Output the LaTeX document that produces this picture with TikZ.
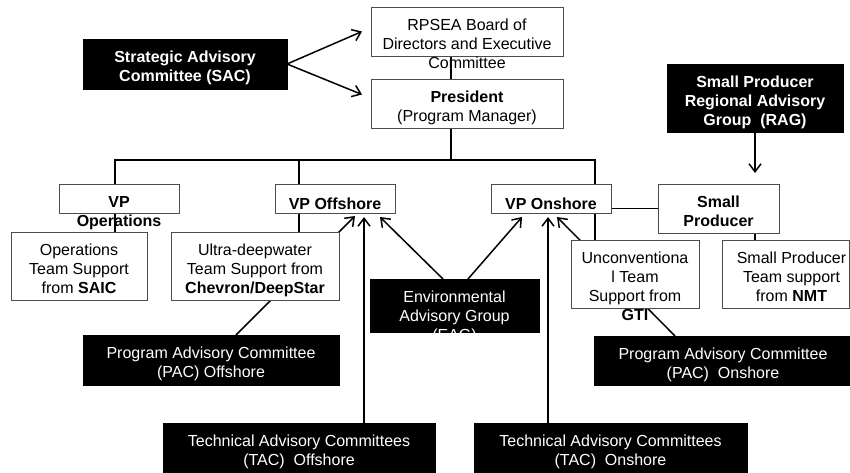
\documentclass[tikz,border=0pt]{standalone}
\usepackage{fontspec}
\setmainfont{Liberation Sans}
\usetikzlibrary{arrows.meta}
\pgfdeclarelayer{bg}
\pgfsetlayers{bg,main}
\begin{document}
\begin{tikzpicture}[x=1pt,y=-1pt,
  wbox/.style={draw=black!70, line width=0.8pt, fill=white, inner sep=0pt, outer sep=0pt, anchor=north west},
  kbox/.style={draw=black, fill=black, line width=0.8pt, inner sep=0pt, outer sep=0pt, anchor=north west},
  btxt/.style={font=\fontsize{16}{19}\selectfont, align=center, inner sep=0pt, anchor=north, text=black,
    execute at begin node={\rule{0pt}{13pt}}},
  wtxt/.style={btxt, text=white},
  conn/.style={line width=1.5pt, black},
  arr/.style={conn, -{Straight Barb[length=8pt,width=12pt]}},
]
\clip (0,0) rectangle (850,472);

% top of the organisation
\node[wbox, minimum width=192pt, minimum height=49pt] (rpsea) at (371,7) {};
\node[btxt] (rpsea-t) at ([yshift=-12pt]rpsea.north) {RPSEA Board of\\Directors and Executive\\Committee};
\node[wbox, minimum width=192pt, minimum height=49pt] (pres) at (371,79) {};
\node[btxt] (pres-t) at ([yshift=-12pt]pres.north) {\textbf{President}\\(Program Manager)};

\node[kbox, minimum width=204pt, minimum height=50pt] (sac) at (83,39) {};
\node[wtxt] (sac-t) at ([yshift=-12pt]sac.north) {\textbf{Strategic Advisory}\\\textbf{Committee (SAC)}};

\node[kbox, minimum width=176pt, minimum height=68pt] (rag) at (667,64) {};
\node[wtxt] (rag-t) at ([yshift=-12pt]rag.north) {\textbf{Small Producer}\\\textbf{Regional Advisory}\\\textbf{Group\ \ (RAG)}};

% vice presidents
\node[wbox, minimum width=120pt, minimum height=29pt] (vpops) at (59,184) {};
\node[btxt] (vpops-t) at ([yshift=-12pt]vpops.north) {\textbf{VP}\\\textbf{Operations}};
\node[wbox, minimum width=120pt, minimum height=29pt] (vpoff) at (275,184) {};
\node[btxt] (vpoff-t) at ([yshift=-12pt]vpoff.north) {\textbf{VP Offshore}};
\node[wbox, minimum width=120pt, minimum height=29pt] (vpon) at (491,184) {};
\node[btxt] (vpon-t) at ([yshift=-12pt]vpon.north) {\textbf{VP Onshore}};
\node[wbox, minimum width=121pt, minimum height=49pt] (sp) at (658,184) {};
\node[btxt] (sp-t) at ([yshift=-12pt]sp.north) {\textbf{Small}\\\textbf{Producer}};

% team support
\node[wbox, minimum width=136pt, minimum height=68pt] (opssup) at (11,232) {};
\node[btxt] (opssup-t) at ([yshift=-12pt]opssup.north) {Operations\\Team Support\\from \textbf{SAIC}};
\node[wbox, minimum width=168pt, minimum height=68pt] (ultra) at (171,232) {};
\node[btxt] (ultra-t) at ([yshift=-12pt]ultra.north) {Ultra-deepwater\\Team Support from\\\textbf{Chevron/DeepStar}};
\node[wbox, minimum width=128pt, minimum height=68pt] (unconv) at (571,240) {};
\node[btxt] (unconv-t) at ([yshift=-12pt]unconv.north) {Unconventiona\\l Team\\Support from\\\textbf{GTI}};
\node[wbox, minimum width=127pt, minimum height=68pt] (spteam) at (722,240) {};
\node[btxt] (spteam-t) at ([yshift=-12pt, xshift=6pt]spteam.north) {Small Producer\\Team support\\from \textbf{NMT}};

% advisory bodies
\node[kbox, minimum width=169pt, minimum height=53pt] (eag) at (370,279) {};
\node[wtxt] (eag-t) at ([yshift=-12pt]eag.north) {Environmental\\Advisory Group\\(EAG)};
\node[kbox, minimum width=256pt, minimum height=50pt] (pacoff) at (83,335) {};
\node[wtxt] (pacoff-t) at ([yshift=-12pt]pacoff.north) {Program Advisory Committee\\(PAC) Offshore};
\node[kbox, minimum width=258pt, minimum height=49pt] (pacon) at (594,336) {};
\node[wtxt] (pacon-t) at ([yshift=-12pt]pacon.north) {Program Advisory Committee\\(PAC)\ \ Onshore};
\node[kbox, minimum width=272pt, minimum height=60pt] (tacoff) at (163,423) {};
\node[wtxt] (tacoff-t) at ([yshift=-12pt]tacoff.north) {Technical Advisory Committees\\(TAC)\ \ Offshore};
\node[kbox, minimum width=273pt, minimum height=60pt] (tacon) at (474,423) {};
\node[wtxt] (tacon-t) at ([yshift=-12pt]tacon.north) {Technical Advisory Committees\\(TAC)\ \ Onshore};

% junction points of the reporting lines
\coordinate (c-top) at (451,160);
\coordinate (c-ops) at (115,160);
\coordinate (c-off) at (299,160);
\coordinate (c-on) at (595,160);
\coordinate (c-sp) at (755,160);
\coordinate (t-off) at (364,217);
\coordinate (t-on) at (548,217);
\coordinate (p-off) at (355,216);
\coordinate (p-on) at (557,217);

\begin{pgfonlayer}{bg}
  % reporting lines
  \draw[conn] (c-top |- rpsea.south) -- (c-top |- pres.north);
  \draw[conn] (c-top |- pres.south) -- (c-top);
  \draw[conn] (c-ops |- vpops.north) -- (c-ops) -- (c-on) -- (c-on |- vpon.north);
  \draw[conn] (c-off) -- (c-off |- vpoff.north);
  \draw[conn] (c-ops |- vpops.south) -- (c-ops |- opssup.north);
  \draw[conn] (c-off |- vpoff.south) -- (c-off |- ultra.north);
  \draw[conn] (c-on |- vpon.south) -- (c-on |- unconv.north);
  \draw[conn] (vpon.east |- sp.west) -- (sp.west);
  \draw[conn] (c-sp |- sp.south) -- (c-sp |- spteam.north);
  % advisory links
  \draw[arr] (sac.east) -- ([xshift=-9pt]rpsea.west);
  \draw[arr] (sac.east) -- ([xshift=-9pt, yshift=9pt]pres.west);
  \draw[arr, shorten >=11pt] (rag.south) -- (rag.south |- sp.north);
  \draw[arr] ([xshift=-11.5pt]eag.north) -- ([xshift=45pt, yshift=-4pt]vpoff.south);
  \draw[arr] ([xshift=13.5pt]eag.north) -- ([xshift=-29pt, yshift=-4pt]vpon.south);
  \draw[arr] (t-off |- tacoff.north) -- (t-off);
  \draw[arr] (t-on |- tacon.north) -- (t-on);
  \draw[arr] ([xshift=25pt]pacoff.north) -- (p-off);
  \draw[arr] ([xshift=-48pt]pacon.north) -- (p-on);
\end{pgfonlayer}
\end{tikzpicture}
\end{document}
